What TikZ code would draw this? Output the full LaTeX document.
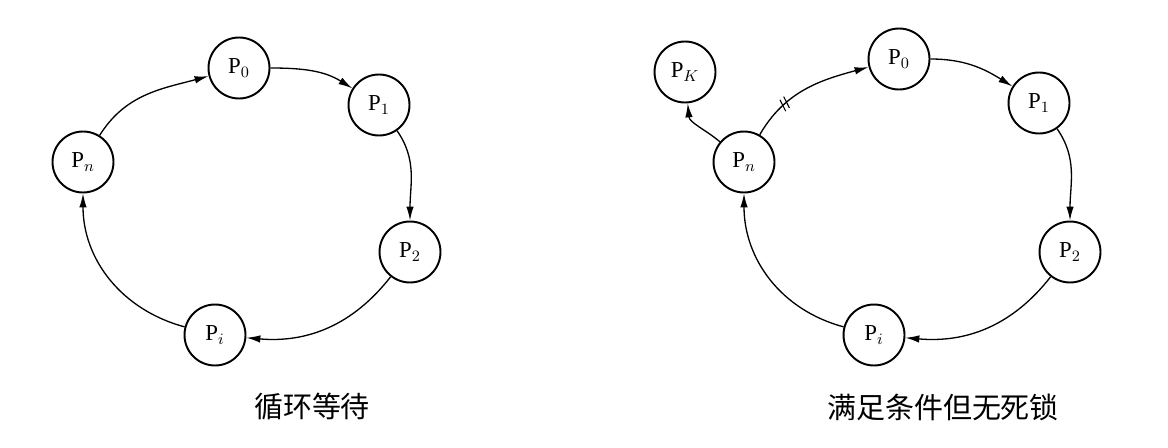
\documentclass[tikz,border=0pt]{standalone}
\usepackage{fontspec}
\setmainfont{Liberation Serif}
\newfontfamily\cjk{Noto Sans CJK SC}
\usetikzlibrary{arrows.meta,decorations.markings}

\begin{document}
\begin{tikzpicture}[x=0.02cm, y=0.02cm,
        proc/.style={draw, circle, line width=1.1pt, minimum size=1.22cm, inner sep=0pt, font=\fontsize{13}{15}\selectfont},
        wait/.style={line width=0.75pt, -{Latex[length=2.8mm,width=1.5mm]}},
        cut/.style={postaction={decorate, decoration={markings, mark=at position 0.3 with {
            \draw[-, line width=0.6pt] (-2.2pt,-3.5pt) -- (-0.4pt,3.5pt);
            \draw[-, line width=0.6pt] (0.6pt,-3.5pt) -- (2.4pt,3.5pt);}}}}] %1
            \useasboundingbox (0,0) rectangle (1168,447);

            % circular wait
            \node[proc] (a0) at (239,379) {P$_0$};
            \node[proc] (a1) at (379,342) {P$_1$};
            \node[proc] (a2) at (410,195) {P$_2$};
            \node[proc] (ai) at (215,112) {P$_i$};
            \node[proc] (an) at (83,285) {P$_n$};
            \draw[wait] (a0) to[out=0, in=148] (a1);
            \draw[wait] (a1) to[out=-55, in=90] (a2);
            \draw[wait] (a2) to[out=-128, in=-5] (ai);
            \draw[wait] (ai) to[out=165, in=-90] (an);
            \draw[wait] (an) to[out=58, in=195] (a0);
            \node (capa) at (312,40) {\cjk\fontsize{16.5}{18}\selectfont 循环等待};

            % no deadlock
            \node[proc] (b0) at (899,388) {P$_0$};
            \node[proc] (b1) at (1039,344) {P$_1$};
            \node[proc] (b2) at (1070,195) {P$_2$};
            \node[proc] (bi) at (874,112) {P$_i$};
            \node[proc] (bn) at (744,285) {P$_n$};
            \node[proc] (bk) at (685,375) {P$_K$};
            \draw[wait] (b0) to[out=0, in=148] (b1);
            \draw[wait] (b1) to[out=-55, in=90] (b2);
            \draw[wait] (b2) to[out=-128, in=-5] (bi);
            \draw[wait] (bi) to[out=165, in=-90] (bn);
            \draw[wait, cut] (bn) to[out=60, in=195] (b0);
            \draw[wait] (bn) to[out=140, in=-85] (bk);
            \node (capb) at (943,40) {\cjk\fontsize{16.5}{18}\selectfont 满足条件但无死锁};
        \end{tikzpicture}
\end{document}
